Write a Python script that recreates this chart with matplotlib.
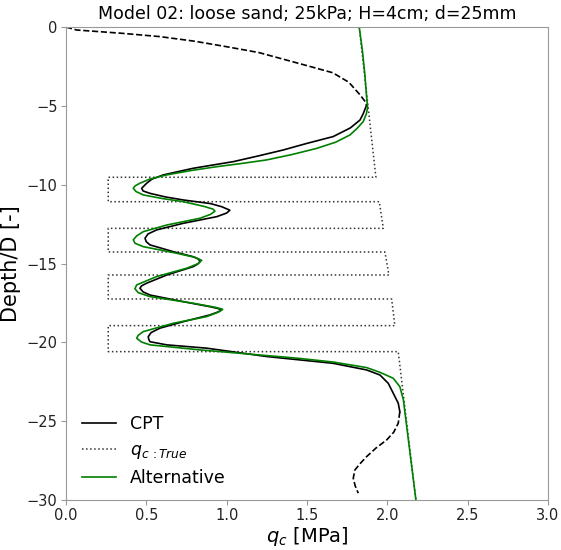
import numpy as np
import matplotlib.pyplot as plt

# CPT measurement (qc in MPa, depth/D)
cpt_top_qc = [0.0, 0.066, 0.35, 0.585, 0.8, 1.0, 1.2, 1.37, 1.50, 1.66, 1.76, 1.83, 1.86, 1.871]
cpt_top_d = [0.0, -0.19, -0.4, -0.61, -0.9, -1.25, -1.62, -2.09, -2.45, -2.9, -3.5, -4.3, -4.7, -4.95]

cpt_qc = [1.871, 1.85, 1.83, 1.77, 1.663, 1.50, 1.352, 1.20, 1.041, 0.91, 0.792, 0.606, 0.535,
          0.502, 0.471, 0.48, 0.523, 0.62, 0.73, 0.90, 0.97, 1.02, 1.0, 0.938, 0.73, 0.564,
          0.51, 0.492, 0.50, 0.523, 0.668, 0.792, 0.825, 0.834, 0.822, 0.792, 0.627, 0.502,
          0.47, 0.46, 0.48, 0.523, 0.73, 0.896, 0.945, 0.969, 0.945, 0.896, 0.73, 0.585, 0.53,
          0.512, 0.515, 0.523, 0.627, 0.876, 1.249, 1.663, 1.871, 1.954, 2.006, 2.037, 2.068,
          2.078]
cpt_d = [-4.95, -5.5, -5.9, -6.4, -6.95, -7.38, -7.8, -8.17, -8.54, -8.76, -8.96, -9.38, -9.65,
         -9.91, -10.23, -10.4, -10.55, -10.78, -10.97, -11.2, -11.4, -11.62, -11.8, -12.03, -12.45,
         -12.87, -13.13, -13.4, -13.62, -13.82, -14.25, -14.57, -14.72, -14.88, -15.02, -15.2,
         -15.73, -16.25, -16.42, -16.57, -16.8, -17.0, -17.42, -17.74, -17.85, -17.95, -18.08,
         -18.26, -18.69, -19.1, -19.38, -19.64, -19.8, -19.96, -20.16, -20.37, -20.9, -21.33,
         -21.75, -22.07, -22.6, -23.23, -23.86, -24.4]

cpt_bot_qc = [2.078, 2.068, 2.04, 1.996, 1.93, 1.871, 1.83, 1.798, 1.788, 1.80, 1.819]
cpt_bot_d = [-24.4, -25.13, -25.7, -26.19, -26.7, -27.25, -27.7, -28.1, -28.62, -29.1, -29.57]

# true qc profile
true_qc = [1.825, 1.929, 0.263, 0.263, 1.95, 1.975, 0.263, 0.263, 1.985, 2.01, 0.263, 0.263,
           2.027, 2.047, 0.263, 0.263, 2.068, 2.178]
true_d = [0.0, -9.53, -9.53, -11.08, -11.08, -12.77, -12.77, -14.27, -14.27, -15.73, -15.73, -17.25,
          -17.25, -18.94, -18.94, -20.59, -20.59, -30.0]

# alternative interpretation
alt_qc = [1.825, 1.845, 1.86, 1.871, 1.877, 1.87, 1.85, 1.81, 1.767, 1.68, 1.56, 1.41, 1.249,
          1.09, 0.938, 0.78, 0.627, 0.52, 0.46, 0.43, 0.419, 0.435, 0.481, 0.60, 0.73, 0.86,
          0.915, 0.927, 0.90, 0.834, 0.627, 0.481, 0.44, 0.419, 0.43, 0.481, 0.689, 0.80,
          0.845, 0.82, 0.751, 0.564, 0.44, 0.429, 0.45, 0.523, 0.792, 0.93, 0.975, 0.95, 0.875,
          0.668, 0.481, 0.45, 0.44, 0.47, 0.523, 0.834, 1.435, 1.663, 1.871, 1.954, 2.037, 2.078,
          2.1, 2.178]
alt_d = [0.0, -1.5, -3.0, -4.42, -5.09, -5.5, -6.0, -6.45, -6.85, -7.3, -7.7, -8.08, -8.43,
         -8.66, -8.86, -9.1, -9.38, -9.65, -9.91, -10.08, -10.23, -10.43, -10.65, -10.88, -11.08,
         -11.38, -11.55, -11.68, -11.88, -12.13, -12.56, -12.98, -13.25, -13.5, -13.72, -13.93,
         -14.35, -14.6, -14.8, -15.02, -15.3, -15.83, -16.36, -16.6, -16.85, -17.1, -17.52,
         -17.78, -17.9, -18.08, -18.37, -18.79, -19.32, -19.55, -19.74, -19.98, -20.16, -20.48,
         -21.0, -21.25, -21.6, -21.9, -22.28, -22.81, -23.65, -30.0]

fig = plt.figure(figsize=(5.61, 5.5), dpi=100)
ax = fig.add_axes([0.1176, 0.0909, 0.8592, 0.86])

ax.plot(cpt_top_qc, cpt_top_d, color='k', ls='--', lw=1.2)
ax.plot(cpt_qc, cpt_d, color='k', lw=1.2, label='CPT')
ax.plot(cpt_bot_qc, cpt_bot_d, color='k', ls='--', lw=1.2)
ax.plot(true_qc, true_d, color='k', ls=':', lw=1.1, alpha=0.8, label=r'$q_{c\,:True}$')
ax.plot(alt_qc, alt_d, color='green', lw=1.2, label='Alternative')

ax.set_xlim(0, 3.0)
ax.set_ylim(-30, 0)
ax.set_xticks(np.arange(0, 3.01, 0.5))
ax.set_yticks([0, -5, -10, -15, -20, -25, -30])
ax.set_title('Model 02: loose sand; 25kPa; H=4cm; d=25mm', fontsize=12.5)
ax.set_xlabel('$q_c$ [MPa]', fontsize=14, labelpad=1)
ax.set_ylabel('Depth/D [-]', fontsize=15)

for s in ax.spines.values():
    s.set_color('#999999')
ax.tick_params(colors='#999999', labelcolor='#222222', labelsize=10.5, length=3.5, pad=2.5)

ax.legend(loc='lower left', frameon=False, fontsize=12.5, handlelength=2.0,
          labelspacing=0.45, bbox_to_anchor=(0.0, -0.005))

fig.savefig('out.png', dpi=100)
